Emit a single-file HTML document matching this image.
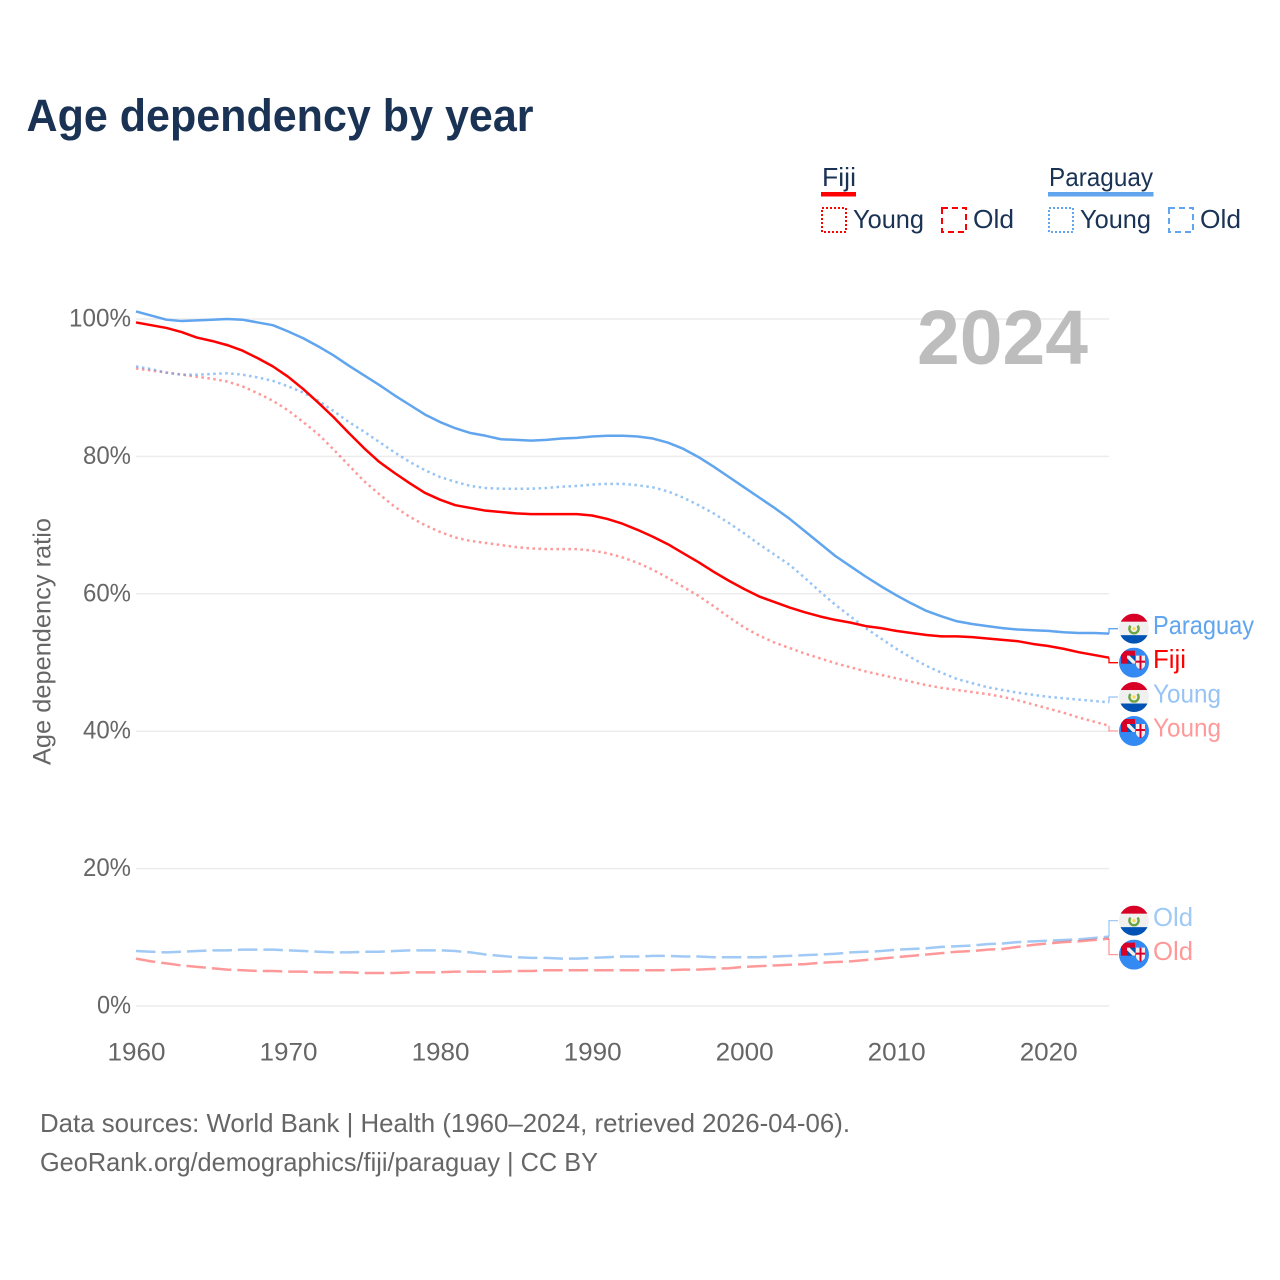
<!DOCTYPE html>
<html lang="en">
<head>
<meta charset="utf-8">
<title>Age dependency by year</title>
<style>
html,body{margin:0;padding:0;background:#fff;}
svg{display:block;font-family:"Liberation Sans",sans-serif;}
</style>
</head>
<body>
<svg id="chart" xmlns="http://www.w3.org/2000/svg" width="1280" height="1280" viewBox="0 0 1280 1280">
  <defs>
    <clipPath id="flag-clip"><circle cx="0" cy="0" r="15"/></clipPath>
  </defs>
  <rect x="0" y="0" width="1280" height="1280" fill="#ffffff"/>
  <text x="26.500" y="131" font-size="45" font-weight="700" fill="#1a3354" textLength="507" lengthAdjust="spacingAndGlyphs">Age dependency by year</text>

  <g font-size="26" fill="#1a3354">
    <text x="822" y="186" textLength="34" lengthAdjust="spacingAndGlyphs">Fiji</text>
    <rect x="821" y="192" width="35" height="4.5" fill="#ff0000"/>
    <rect x="822" y="208" width="24" height="24" fill="none" stroke="#ff0000" stroke-width="2" stroke-dasharray="2,2"/>
    <text x="853" y="228" textLength="71" lengthAdjust="spacingAndGlyphs">Young</text>
    <rect x="942" y="208" width="24" height="24" fill="none" stroke="#ff0000" stroke-width="2" stroke-dasharray="6,4"/>
    <text x="973" y="228" textLength="41" lengthAdjust="spacingAndGlyphs">Old</text>
    <text x="1049" y="186" textLength="104" lengthAdjust="spacingAndGlyphs">Paraguay</text>
    <rect x="1048" y="192" width="105.500" height="4.5" fill="#60a5ee"/>
    <rect x="1049" y="208" width="24" height="24" fill="none" stroke="#60a5ee" stroke-width="2" stroke-dasharray="2,2"/>
    <text x="1080" y="228" textLength="71" lengthAdjust="spacingAndGlyphs">Young</text>
    <rect x="1169" y="208" width="24" height="24" fill="none" stroke="#60a5ee" stroke-width="2" stroke-dasharray="6,4"/>
    <text x="1200" y="228" textLength="41" lengthAdjust="spacingAndGlyphs">Old</text>
  </g>

  <g id="grid"></g>
  <text x="917" y="364" font-size="77" font-weight="700" fill="#bdbdbd" textLength="171" lengthAdjust="spacingAndGlyphs">2024</text>
  <g id="yticks" font-size="25" fill="#666666" text-anchor="end"></g>
  <g id="xticks" font-size="25" fill="#666666" text-anchor="middle"></g>
  <text transform="translate(50.500,765) rotate(-90)" font-size="25" fill="#666666" textLength="247" lengthAdjust="spacingAndGlyphs">Age dependency ratio</text>
  <g id="series" fill="none"></g>
  <g id="labels"></g>

  <text x="40" y="1132" font-size="26" fill="#666666" textLength="810" lengthAdjust="spacingAndGlyphs">Data sources: World Bank | Health (1960–2024, retrieved 2026-04-06).</text>
  <text x="40" y="1171" font-size="26" fill="#666666" textLength="558" lengthAdjust="spacingAndGlyphs">GeoRank.org/demographics/fiji/paraguay | CC BY</text>
</svg>
<script>
var years = [1960,1961,1962,1963,1964,1965,1966,1967,1968,1969,1970,1971,1972,1973,1974,1975,1976,1977,1978,1979,1980,1981,1982,1983,1984,1985,1986,1987,1988,1989,1990,1991,1992,1993,1994,1995,1996,1997,1998,1999,2000,2001,2002,2003,2004,2005,2006,2007,2008,2009,2010,2011,2012,2013,2014,2015,2016,2017,2018,2019,2020,2021,2022,2023,2024];
var paraguayTotal = [101.1,100.5,99.9,99.7,99.8,99.9,100.0,99.9,99.5,99.1,98.2,97.2,96.0,94.7,93.2,91.8,90.4,88.9,87.5,86.1,85.0,84.1,83.4,83.0,82.5,82.4,82.3,82.4,82.6,82.7,82.9,83.0,83.0,82.9,82.6,82.0,81.1,79.9,78.5,77.0,75.5,74.0,72.5,70.9,69.1,67.3,65.5,64.0,62.5,61.1,59.8,58.6,57.5,56.7,56.0,55.6,55.3,55.0,54.8,54.7,54.6,54.4,54.3,54.3,54.2];
var fijiTotal = [99.5,99.1,98.7,98.1,97.3,96.8,96.2,95.4,94.3,93.1,91.6,89.8,87.8,85.7,83.4,81.2,79.2,77.6,76.1,74.7,73.7,72.9,72.5,72.1,71.9,71.7,71.6,71.6,71.6,71.6,71.4,70.9,70.2,69.3,68.3,67.2,65.9,64.6,63.2,61.9,60.7,59.6,58.8,58.0,57.3,56.7,56.2,55.8,55.3,55.0,54.6,54.3,54.0,53.8,53.8,53.7,53.5,53.3,53.1,52.7,52.4,52.0,51.5,51.1,50.7];
var paraguayYoung = [93.1,92.7,92.2,91.9,91.9,92.0,92.1,91.9,91.5,91.0,90.2,89.3,88.1,86.6,85.0,83.6,82.1,80.6,79.2,78.0,77.0,76.3,75.7,75.4,75.3,75.3,75.3,75.4,75.6,75.7,75.9,76.0,76.0,75.8,75.5,74.9,74.0,72.9,71.7,70.3,68.8,67.2,65.7,64.2,62.3,60.3,58.4,56.7,55.0,53.5,52.0,50.7,49.5,48.5,47.6,47.0,46.4,46.0,45.6,45.3,45.0,44.8,44.6,44.4,44.2];
var fijiYoung = [92.8,92.5,92.2,91.9,91.6,91.3,90.9,90.2,89.2,88.1,86.7,85.0,83.2,81.0,78.7,76.4,74.5,72.7,71.2,70.0,69.0,68.2,67.7,67.4,67.1,66.8,66.6,66.5,66.5,66.5,66.3,65.9,65.3,64.5,63.5,62.3,61.0,59.7,58.2,56.6,55.1,53.9,52.9,52.1,51.3,50.6,49.9,49.3,48.7,48.2,47.7,47.2,46.7,46.3,46.0,45.7,45.4,45.0,44.5,43.9,43.3,42.7,42.0,41.4,40.8];
var paraguayOld = [8.0,7.9,7.8,7.9,8.0,8.1,8.1,8.2,8.2,8.2,8.1,8.0,7.9,7.8,7.8,7.9,7.9,8.0,8.1,8.1,8.1,8.0,7.8,7.5,7.3,7.1,7.0,7.0,6.9,6.9,7.0,7.1,7.2,7.2,7.3,7.3,7.2,7.2,7.1,7.1,7.1,7.1,7.2,7.3,7.4,7.5,7.6,7.8,7.9,8.0,8.2,8.3,8.4,8.6,8.7,8.8,9.0,9.1,9.3,9.4,9.5,9.6,9.7,9.9,10.1];
var fijiOld = [6.9,6.5,6.2,5.9,5.7,5.5,5.3,5.2,5.1,5.1,5.0,5.0,4.9,4.9,4.9,4.8,4.8,4.8,4.9,4.9,4.9,5.0,5.0,5.0,5.0,5.1,5.1,5.2,5.2,5.2,5.2,5.2,5.2,5.2,5.2,5.2,5.3,5.3,5.4,5.5,5.7,5.8,5.9,6.0,6.1,6.3,6.4,6.5,6.7,6.9,7.1,7.3,7.5,7.7,7.9,8.0,8.2,8.3,8.6,8.9,9.1,9.3,9.4,9.6,9.8];
var yTickValues = [0,20,40,60,80,100];
var xTickValues = [1960,1970,1980,1990,2000,2010,2020];

var NS = 'http://www.w3.org/2000/svg';
function xScale(year){ return 136 + (year - 1960) * (1109 - 136) / 64; }
function yScale(v){ return 1006 - v * 6.87; }
function make(tag, attrs, parent){
  var el = document.createElementNS(NS, tag);
  for (var k in attrs) el.setAttribute(k, attrs[k]);
  parent.appendChild(el);
  return el;
}

var gridG = document.getElementById('grid');
var yTickG = document.getElementById('yticks');
yTickValues.forEach(function(v){
  var line = make('line', {x1:136, x2:1109, y1:yScale(v), y2:yScale(v), stroke:'#ececec', 'stroke-width':1.5}, gridG);
  
  
  var label = v + '%';
  var t = make('text', {x:131, y:yScale(v) + 7.5, textLength:(label.length - 1) * 14 + 20, lengthAdjust:'spacingAndGlyphs'}, yTickG);
  t.textContent = label;
  
  
});

var xTickG = document.getElementById('xticks');
xTickValues.forEach(function(y){
  var t = make('text', {x:xScale(y) + 0.5, y:1060.5, textLength:58, lengthAdjust:'spacingAndGlyphs'}, xTickG);
  t.textContent = y;
  
  
});

var seriesList = [
  {id:'paraguay-old', values:paraguayOld, color:'#60a5ee', opacity:0.6, dash:'19.5,6', label:'Old', flag:'paraguay'},
  {id:'fiji-old', values:fijiOld, color:'#ff0000', opacity:0.4, dash:'19.5,6', label:'Old', flag:'fiji'},
  {id:'fiji-young', values:fijiYoung, color:'#ff0000', opacity:0.4, dash:'2.5,3.5', label:'Young', flag:'fiji'},
  {id:'paraguay-young', values:paraguayYoung, color:'#60a5ee', opacity:0.65, dash:'2.5,3.5', label:'Young', flag:'paraguay'},
  {id:'paraguay-total', values:paraguayTotal, color:'#60a5ee', opacity:1, dash:'', label:'Paraguay', flag:'paraguay'},
  {id:'fiji-total', values:fijiTotal, color:'#ff0000', opacity:1, dash:'', label:'Fiji', flag:'fiji'}
];

var seriesG = document.getElementById('series');
seriesList.forEach(function(s){
  var pts = s.values.map(function(v, i){ return xScale(years[i]).toFixed(2) + ',' + yScale(v).toFixed(2); }).join(' ');
  var attrs = {points:pts, stroke:s.color, 'stroke-opacity':s.opacity, 'stroke-width':2.5, 'stroke-linejoin':'round'};
  if (s.dash) attrs['stroke-dasharray'] = s.dash;
  var line = make('polyline', attrs, seriesG);
  
  
});

/* End-label placement: overlapping labels are merged into evenly spaced clusters. */
var SPACING = 34;
var ends = seriesList.map(function(s){ return {s:s, y:yScale(s.values[s.values.length - 1])}; });
ends.sort(function(a, b){ return a.y - b.y; });
var clusters = ends.map(function(e){ return {items:[e], mean:e.y}; });
var merged = true;
while (merged) {
  merged = false;
  for (var i = 0; i < clusters.length - 1; i++) {
    var a = clusters[i], b = clusters[i + 1];
    var aBottom = a.mean + (a.items.length - 1) * SPACING / 2;
    var bTop = b.mean - (b.items.length - 1) * SPACING / 2;
    if (bTop - aBottom < SPACING) {
      var items = a.items.concat(b.items);
      var sum = 0;
      items.forEach(function(it){ sum += it.y; });
      clusters.splice(i, 2, {items:items, mean:sum / items.length});
      merged = true;
      break;
    }
  }
}

var labelWidths = {Paraguay:101, Fiji:33, Young:68, Old:40};
var labelsG = document.getElementById('labels');

function drawParaguayFlag(g){
  make('rect', {x:-15, y:-15, width:30, height:30, fill:'#f0f0f0'}, g);
  make('rect', {x:-15, y:-15, width:30, height:8, fill:'#d80027'}, g);
  make('rect', {x:-15, y:6.5, width:30, height:9, fill:'#0052b4'}, g);
  make('path', {d:'M3.5,-3 A4.6,4.6 0 1 1 -3.5,-3', fill:'none', stroke:'#6da544', 'stroke-width':2.4}, g);
  make('circle', {cx:0, cy:0, r:1.6, fill:'#ffda44'}, g);
}
function drawFijiFlag(g){
  make('rect', {x:-15, y:-15, width:30, height:30, fill:'#338af3'}, g);
  make('rect', {x:-13, y:-12, width:14, height:13, fill:'#d80027'}, g);
  make('rect', {x:-7, y:-7, width:8, height:8, fill:'#0052b4'}, g);
  make('path', {d:'M-7,-7 L-4.500,-7 L1,-1.500 L1,1 L-1.500,1 L-7,-4.500 Z', fill:'#f0f0f0'}, g);
  make('path', {d:'M2,-7 H11 V2 Q11,5 6.500,7 Q2,5 2,2 Z', fill:'#f0f0f0'}, g);
  make('rect', {x:5.5, y:-7, width:2, height:14, fill:'#d80027'}, g);
  make('rect', {x:2, y:-2, width:9, height:2, fill:'#d80027'}, g);
}

clusters.forEach(function(c){
  c.items.forEach(function(it, idx){
    var cy = c.mean + (idx - (c.items.length - 1) / 2) * SPACING;
    var s = it.s;
    var conn = make('polyline', {points:'1109,' + it.y.toFixed(2) + ' 1109,' + cy.toFixed(2) + ' 1118,' + cy.toFixed(2), fill:'none', stroke:s.color, 'stroke-opacity':s.opacity, 'stroke-width':1.3}, labelsG);
    
    

    var g = make('g', {transform:'translate(1134,' + cy.toFixed(2) + ')'}, labelsG);
    
    
    var inner = make('g', {'clip-path':'url(#flag-clip)'}, g);
    if (s.flag === 'paraguay') { drawParaguayFlag(inner); } else { drawFijiFlag(inner); }

    var t = make('text', {x:1153, y:(cy + 5.5).toFixed(2), 'font-size':26, fill:s.color, 'fill-opacity':s.opacity, textLength:labelWidths[s.label], lengthAdjust:'spacingAndGlyphs'}, labelsG);
    t.textContent = s.label;
    
    
  });
});
</script>
</body>
</html>
